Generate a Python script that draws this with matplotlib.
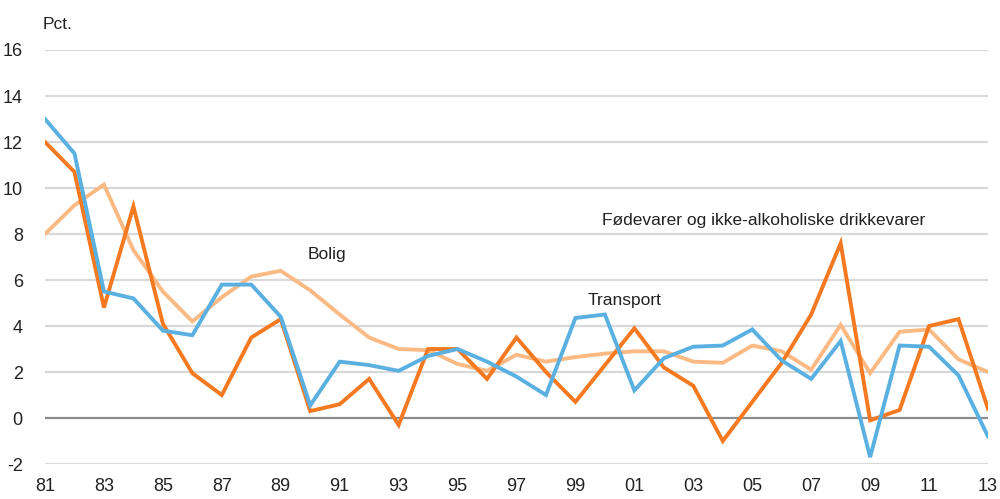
import matplotlib
matplotlib.use("Agg")
import matplotlib.pyplot as plt
from matplotlib import font_manager

years = list(range(1981, 2014))

fodevarer = [12.0, 10.7, 4.8, 9.2, 4.1, 1.95, 1.0, 3.5, 4.3, 0.3,
             0.6, 1.7, -0.3, 3.0, 3.0, 1.7, 3.5, 2.0, 0.7, 2.3,
             3.9, 2.2, 1.4, -1.0, 0.7, 2.4, 4.5, 7.6, -0.1, 0.35,
             4.0, 4.3, 0.4]

transport = [13.0, 11.5, 5.5, 5.2, 3.8, 3.6, 5.8, 5.8, 4.4, 0.55,
             2.45, 2.3, 2.05, 2.7, 3.0, 2.45, 1.8, 1.0, 4.35, 4.5,
             1.2, 2.6, 3.1, 3.15, 3.85, 2.5, 1.7, 3.35, -1.7, 3.15,
             3.1, 1.85, -0.8]

bolig = [8.0, 9.25, 10.15, 7.3, 5.5, 4.2, 5.25, 6.15, 6.4, 5.55,
         4.5, 3.5, 3.0, 2.95, 2.35, 2.05, 2.75, 2.45, 2.65, 2.8,
         2.9, 2.9, 2.45, 2.4, 3.15, 2.9, 2.1, 4.05, 1.95, 3.75,
         3.85, 2.55, 2.0]

tick_years = list(range(1981, 2014, 2))
tick_labels = [f"{y % 100:02d}" for y in tick_years]
y_ticks = list(range(-2, 17, 2))

names = {f.name for f in font_manager.fontManager.ttflist}
fam = "Liberation Sans Narrow" if "Liberation Sans Narrow" in names else "Liberation Sans"
plt.rcParams['font.family'] = [fam, 'DejaVu Sans']

c_food = "#F47920"
c_trans = "#5AB0E0"
c_bolig = "#FBBA84"

fig = plt.figure(figsize=(10, 4.99), dpi=100)
ax = fig.add_axes([0.045, 0.0701, 0.943, 0.8297])

for v in y_ticks:
    if v == 0:
        ax.axhline(v, color="#8C8C8C", lw=1.6, zorder=1)
    else:
        ax.axhline(v, color="#D9D9D9", lw=1.6, zorder=1)

ax.plot(years, bolig, color=c_bolig, lw=2.8, zorder=2, solid_joinstyle='miter')
ax.plot(years, fodevarer, color=c_food, lw=2.8, zorder=3, solid_joinstyle='miter')
ax.plot(years, transport, color=c_trans, lw=2.8, zorder=4, solid_joinstyle='miter')

ax.set_xlim(1981, 2013)
ax.set_ylim(-2, 16)
ax.set_xticks(tick_years)
ax.set_xticklabels(tick_labels)
ax.set_yticks(y_ticks)
ax.set_yticklabels([str(v) for v in y_ticks])
ax.tick_params(axis='both', length=0, labelsize=13, colors="#222222")
ax.tick_params(axis='y', pad=16)
ax.tick_params(axis='x', pad=10)
for s in ax.spines.values():
    s.set_visible(False)

txt = dict(fontsize=12.5, color="#222222", va='center', ha='left')
ax.text(1989.9, 7.1, "Bolig", **txt)
ax.text(1999.4, 5.13, "Transport", **txt)
ax.text(1999.9, 8.6, "Fødevarer og ikke-alkoholiske drikkevarer", **txt)
fig.text(0.043, 0.95, "Pct.", fontsize=12.5, color="#222222", va='center', ha='left')

fig.savefig("out.png", dpi=100)
